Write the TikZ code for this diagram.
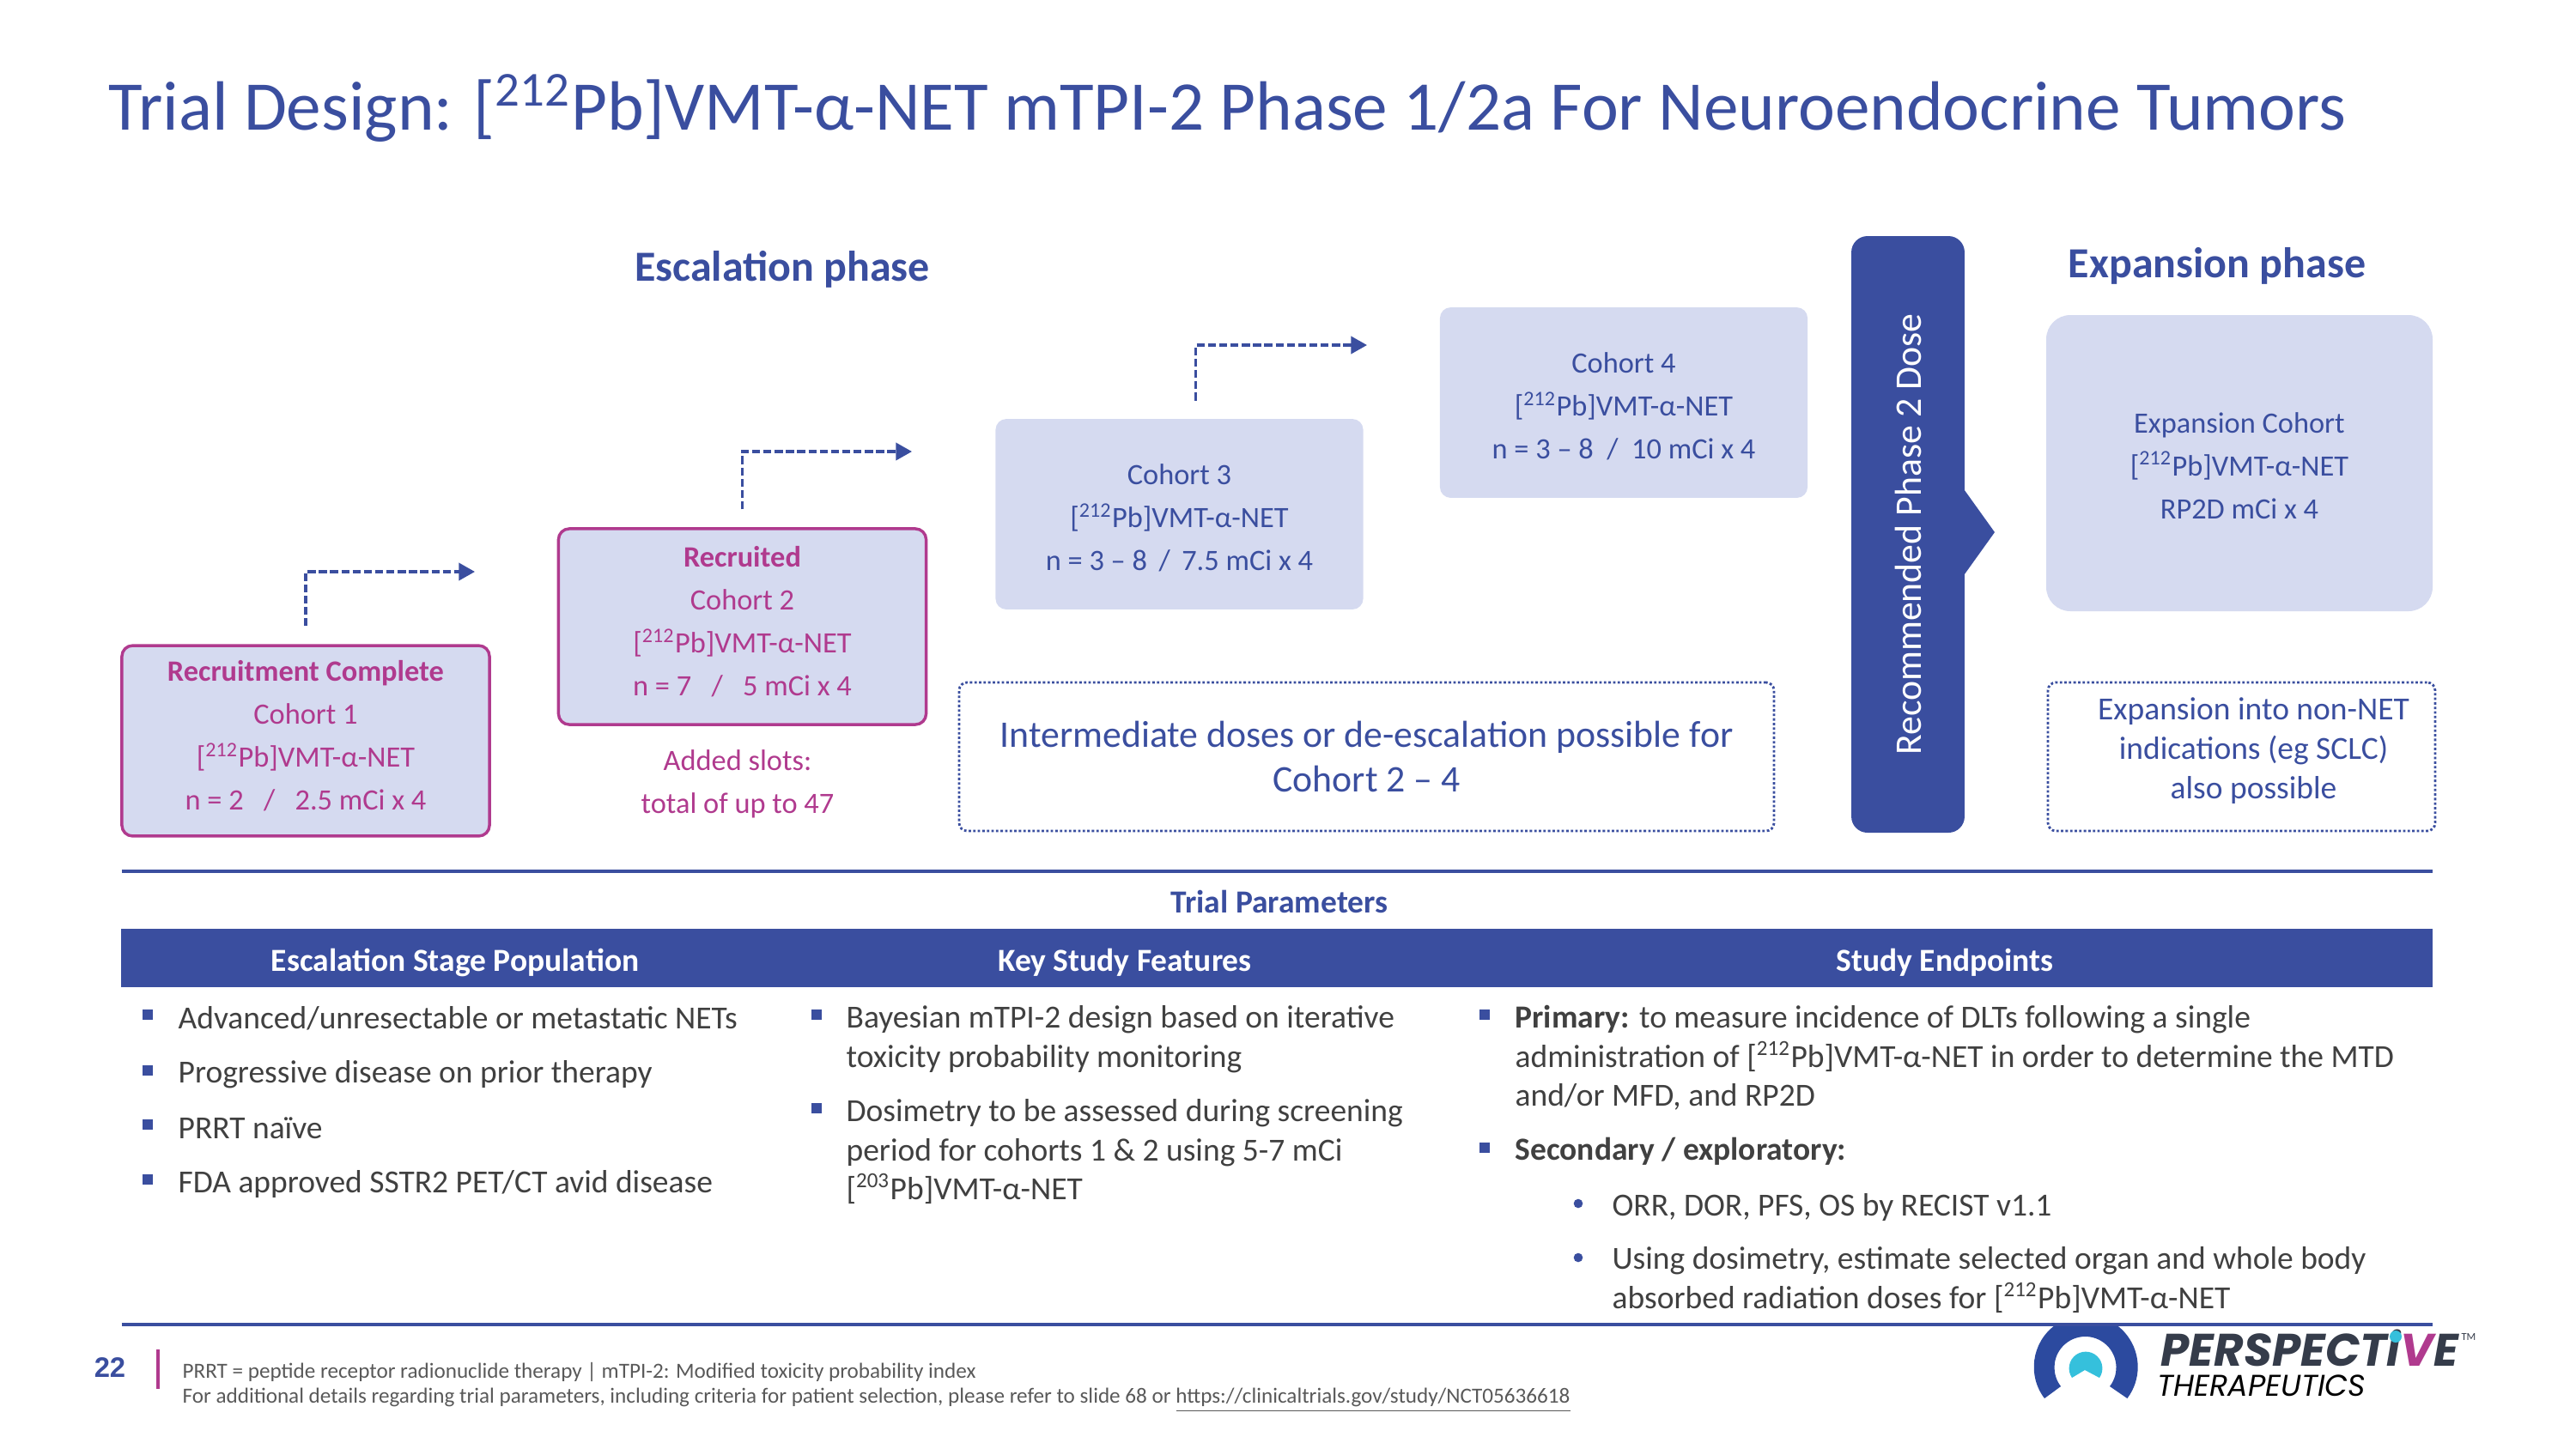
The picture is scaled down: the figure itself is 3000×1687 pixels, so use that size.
\documentclass[tikz,border=0pt]{standalone}
\usepackage{fontspec}
\setmainfont{Carlito}
\newfontfamily\logofont{Poppins}
\newfontfamily\numfont{Liberation Sans}
\usepackage{xcolor}
\usetikzlibrary{positioning,arrows.meta}
\definecolor{pblue}{HTML}{3A4E9F}
\definecolor{plogo}{HTML}{2C4A9F}
\definecolor{plight}{HTML}{D5DAF0}
\definecolor{pmag}{HTML}{B03A8E}
\definecolor{pgrey}{HTML}{404040}
\definecolor{pfoot}{HTML}{595959}
\definecolor{pcyan}{HTML}{35C0DC}
\definecolor{pdark}{HTML}{353C4A}
\newcommand{\vmt}[1]{[\textsuperscript{#1}Pb]VMT-α-NET}
\newcommand{\topfill}[1]{\rule{0pt}{#1}}
\newcommand{\botfill}[1]{\rule[-#1]{0pt}{1pt}}
\tikzset{cohort/.style={rounded corners=4, fill=plight, text=pblue, align=center, minimum width=137pt, minimum height=71pt, inner sep=0pt, font=\fontsize{11}{16}\selectfont}}
\tikzset{recbox/.style={cohort, draw=pmag, line width=1.1pt, text=pmag}}
\tikzset{dotbox/.style={draw=pblue, line width=0.9pt, dash pattern=on 0.9pt off 0.8pt, rounded corners=3, text=pblue, align=center, inner sep=0pt}}
\tikzset{stepup/.style={draw=pblue, line width=1pt, dash pattern=on 3pt off 1.2pt, -{Triangle[length=6pt,width=6.5pt]}, shorten <=6.7pt}}
\tikzset{phase/.style={text=pblue, inner sep=0pt, font=\fontsize{16}{18}\selectfont\bfseries}}
\tikzset{headtxt/.style={text=white, inner sep=0pt, font=\fontsize{12}{14}\selectfont\bfseries}}
\tikzset{item/.style={anchor=north west, inner sep=0pt, align=left, text=pgrey, font=\fontsize{12}{14.5}\selectfont, execute at begin node={\rule{0pt}{12pt}}}}
\tikzset{sqbul/.style={fill=pblue, inner sep=0pt, minimum size=3.6pt}}
\tikzset{rndbul/.style={circle, fill=pblue, inner sep=0pt, minimum size=3.4pt}}
\tikzset{rule/.style={draw=pblue, line width=1pt}}
\tikzset{foot/.style={anchor=west, inner sep=0pt, text=pfoot, font=\fontsize{8.05}{10}\selectfont}}
\begin{document}
\begin{tikzpicture}[x=0.32pt,y=-0.32pt]
	\useasboundingbox (0,0) rectangle (3000,1687);
	\node[anchor=west, inner sep=0pt, text=pblue, font=\fontsize{26}{32}\selectfont] (title) at (126,126)
		{Trial Design: \vmt{212} mTPI-2 Phase 1/2a For Neuroendocrine Tumors};

	\node[phase] (escal) at (911,314) {Escalation phase};
	\node[phase] (expan) at (2582,310) {Expansion phase};

	\node[recbox] (coh1) at (356,863) {\textbf{Recruitment Complete}\\Cohort 1\\\vmt{212}\\n = 2 \ \ / \ \ 2.5 mCi x 4\botfill{3.9pt}};
	\node[recbox, minimum height=73pt] (coh2) at (864.5,730) {\textbf{Recruited}\\Cohort 2\\\vmt{212}\\n = 7 \ \ / \ \ 5 mCi x 4\botfill{4pt}};
	\node[cohort] (coh3) at (1373.5,599) {\topfill{10.6pt}Cohort 3\\\vmt{212}\\n = 3 -- 8 \,/\, 7.5 mCi x 4};
	\node[cohort] (coh4) at (1891,469) {\topfill{10.6pt}Cohort 4\\\vmt{212}\\n = 3 -- 8 \ / \ 10 mCi x 4};
	\node[text=pmag, align=center, inner sep=0pt, font=\fontsize{11}{16}\selectfont] (slots) at (859,913) {Added slots:\\total of up to 47};

	\coordinate (end1) at (553,666);
	\coordinate (end2) at (1062,526);
	\coordinate (end3) at (1592,402);
	\draw[stepup] (coh1.north) |- (end1);
	\draw[stepup] (coh2.north) |- (end2);
	\draw[stepup] ([xshift=6.1pt]coh3.north) |- (end3);

	\fill[pblue] (2280,560) -- (2323,620) -- (2280,680) -- cycle;
	\node[rotate=90, fill=pblue, rounded corners=6, text=white, minimum width=222.4pt, minimum height=42.2pt, inner sep=0pt, font=\fontsize{14}{18}\selectfont] (rp2d) at (2222,622.5) {Recommended Phase 2 Dose};

	\node[cohort, rounded corners=9, minimum width=144pt, minimum height=110.4pt] (expcoh) at (2608,539.5) {\topfill{9.4pt}Expansion Cohort\\\vmt{212}\\RP2D mCi x 4};

	\node[dotbox, minimum width=303.7pt, minimum height=55.4pt, font=\fontsize{14}{16.8}\selectfont] (inter) at (1591.5,881.5) {Intermediate doses or de-escalation possible for\\Cohort 2 -- 4};
	\node[dotbox, minimum width=144.3pt, minimum height=55.4pt, font=\fontsize{12}{14.6}\selectfont] (nonnet) at (2610.5,881.5) {\hspace*{9pt}Expansion into non-NET\\\hspace*{9pt}indications (eg SCLC)\\\hspace*{9pt}also possible\botfill{6.3pt}};

	\coordinate (ruleL) at (141.5,1015);
	\coordinate (ruleR) at (2833,1015);
	\draw[rule] (ruleL) -- (ruleR);
	\node[phase, font=\fontsize{12}{14}\selectfont\bfseries] (params) at (1490,1050) {Trial Parameters};
	\node[fill=pblue, minimum width=861.3pt, minimum height=21.5pt, inner sep=0pt] (head) at (1487.2,1116) {};
	\node[headtxt] (hpop) at (530,1121) {Escalation Stage Population};
	\node[headtxt] (hkey) at (1310,1121) {Key Study Features};
	\node[headtxt] (hend) at (2265,1121) {Study Endpoints};

	% population
	\node[sqbul] (b1) at (172,1182) {};
	\node[sqbul] (b2) at (172,1247) {};
	\node[sqbul] (b3) at (172,1310) {};
	\node[sqbul] (b4) at (172,1374) {};
	\node[item] (p1) at (207,1160) {Advanced/unresectable or metastatic NETs};
	\node[item] (p2) at (207,1223) {Progressive disease on prior therapy};
	\node[item] (p3) at (207,1288) {PRRT naïve};
	\node[item] (p4) at (207,1351) {FDA approved SSTR2 PET/CT avid disease};

	% features
	\node[sqbul] (b5) at (951,1182) {};
	\node[sqbul] (b6) at (951,1291) {};
	\node[item] (k1) at (985,1171) {Bayesian mTPI-2 design based on iterative\\toxicity probability monitoring};
	\node[item] (k2) at (985,1280) {Dosimetry to be assessed during screening\\period for cohorts 1 \& 2 using 5-7 mCi\\\vmt{203}};

	% endpoints
	\node[sqbul] (b7) at (1729,1182) {};
	\node[sqbul] (b8) at (1729,1337) {};
	\node[rndbul] (b9) at (1838,1402) {};
	\node[rndbul] (b10) at (1838,1465) {};
	\node[item] (e1) at (1764,1171) {\textbf{Primary:} to measure incidence of DLTs following a single\\administration of \vmt{212} in order to determine the MTD\\and/or MFD, and RP2D};
	\node[item] (e2) at (1764,1313) {\textbf{Secondary / exploratory:}};
	\node[item] (e3) at (1877,1378) {ORR, DOR, PFS, OS by RECIST v1.1};
	\node[item] (e4) at (1877,1452) {Using dosimetry, estimate selected organ and whole body\\absorbed radiation doses for \vmt{212}};

	% logo
	\begin{scope}
		\clip (2360,1543) rectangle (2500,1640);
		\fill[plogo] (2381,1629) arc (142.8:397.2:60.5) -- (2457,1615) arc (37.7:-217.7:36) -- cycle;
	\end{scope}
	\fill[pcyan] (2413,1605) arc (145.5:394.5:19.4) -- (2428,1596) -- cycle;
	\node[anchor=west, inner sep=0pt, text=pdark, font=\logofont\fontsize{17}{19}\selectfont\bfseries\itshape] (perspec) at (2516,1570) {PERSPECTi\textcolor{pmag}{V}E};
	\node[inner sep=0pt, text=pdark, font=\fontsize{4}{5}\selectfont] (tm) at (2875,1557) {TM};
	\node[anchor=west, inner sep=0pt, text=black, font=\logofont\fontsize{11.2}{13}\selectfont\itshape] (thera) at (2512,1614) {THERAPEUTICS};
	\fill[pcyan] (2790,1557) circle (7);

	\coordinate (rule2L) at (141.5,1543);
	\coordinate (rule2R) at (2833,1543);
	\draw[rule] (rule2L) -- (rule2R);

	% footer
	\node[inner sep=0pt, text=pblue, font=\numfont\fontsize{10.5}{12}\selectfont\bfseries] (pageno) at (128,1593) {22};
	\coordinate (tickT) at (184,1572);
	\coordinate (tickB) at (184,1618);
	\draw[pmag, line width=1pt] (tickT) -- (tickB);
	\node[foot] (note1) at (212,1598) {PRRT = peptide receptor radionuclide therapy | mTPI-2: Modified toxicity probability index};
	\node[foot] (note2) at (212,1631) {For additional details regarding trial parameters, including criteria for patient selection, please refer to slide 68 or \underline{https://clinicaltrials.gov/study/NCT05636618}};
\end{tikzpicture}
\end{document}
